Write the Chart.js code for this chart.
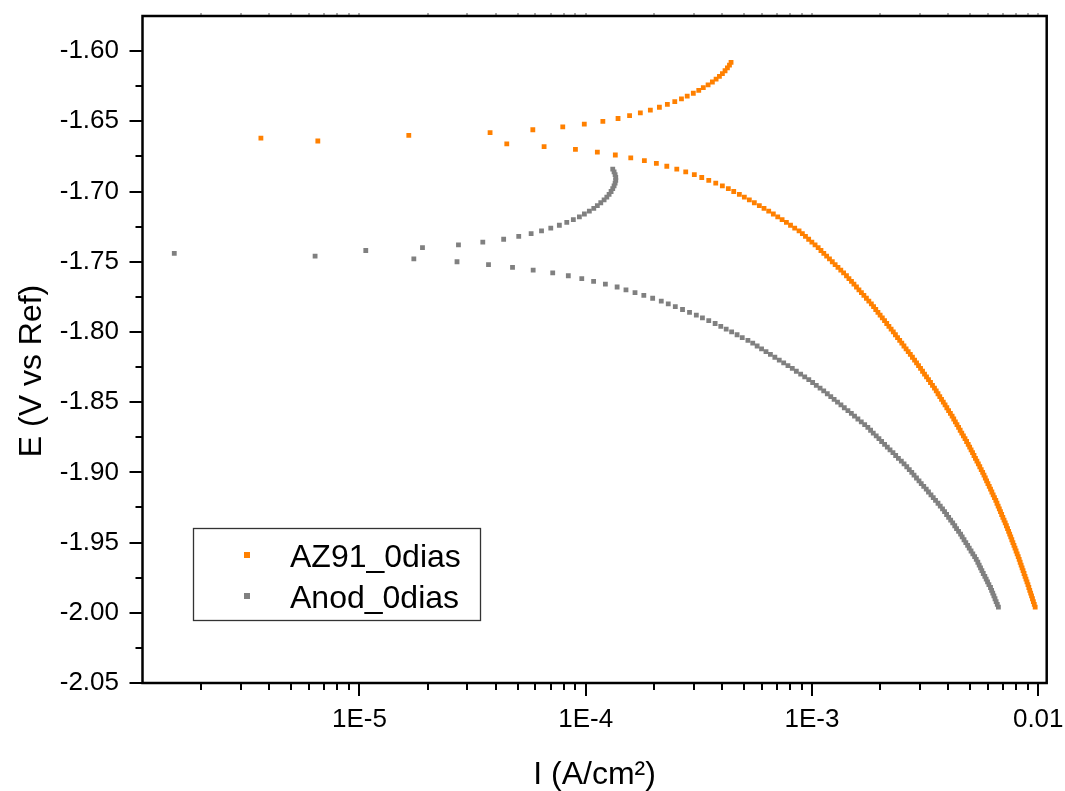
<!DOCTYPE html>
<html>
<head>
<meta charset="utf-8">
<title>Tafel AZ91 / Anod</title>
<script src="https://cdn.jsdelivr.net/npm/chart.js@4.4.1/dist/chart.umd.min.js"></script>
<style>
  html, body { margin: 0; padding: 0; background: #fff; }
</style>
</head>
<body>
<canvas id="tafel" width="1065" height="791"></canvas>
<script>
// Tafel curves, E (V vs Ref) against I (A/cm2)

const seriesNames = ['AZ91_0dias', 'Anod_0dias'];

// AZ91_0dias : potential (V) and current density (A/cm2), same order
const az91Potential = [
  -1.996,-1.994,-1.992,-1.990,-1.988,-1.986,-1.984,-1.982,-1.980,-1.978,
  -1.976,-1.974,-1.972,-1.970,-1.968,-1.966,-1.964,-1.962,-1.960,-1.958,
  -1.956,-1.954,-1.952,-1.950,-1.948,-1.946,-1.944,-1.942,-1.940,-1.938,
  -1.936,-1.934,-1.932,-1.930,-1.928,-1.926,-1.924,-1.922,-1.920,-1.918,
  -1.916,-1.914,-1.912,-1.910,-1.908,-1.906,-1.904,-1.902,-1.900,-1.898,
  -1.896,-1.894,-1.892,-1.890,-1.888,-1.886,-1.884,-1.882,-1.880,-1.878,
  -1.876,-1.874,-1.872,-1.870,-1.868,-1.866,-1.864,-1.862,-1.860,-1.858,
  -1.856,-1.854,-1.852,-1.850,-1.848,-1.846,-1.844,-1.842,-1.840,-1.838,
  -1.836,-1.834,-1.832,-1.830,-1.828,-1.826,-1.824,-1.822,-1.820,-1.818,
  -1.816,-1.814,-1.812,-1.810,-1.808,-1.806,-1.804,-1.802,-1.800,-1.798,
  -1.796,-1.794,-1.792,-1.790,-1.788,-1.786,-1.784,-1.782,-1.780,-1.778,
  -1.776,-1.774,-1.772,-1.770,-1.768,-1.766,-1.764,-1.762,-1.760,-1.758,
  -1.756,-1.754,-1.752,-1.750,-1.748,-1.746,-1.744,-1.742,-1.740,-1.738,
  -1.736,-1.734,-1.732,-1.730,-1.728,-1.726,-1.724,-1.722,-1.720,-1.718,
  -1.716,-1.714,-1.712,-1.710,-1.708,-1.706,-1.704,-1.702,-1.700,-1.698,
  -1.696,-1.694,-1.692,-1.690,-1.688,-1.686,-1.684,-1.682,-1.680,-1.678,
  -1.676,-1.674,-1.672,-1.670,-1.668,-1.666,-1.664,-1.662,-1.660,-1.658,
  -1.656,-1.654,-1.652,-1.650,-1.648,-1.646,-1.644,-1.642,-1.640,-1.638,
  -1.636,-1.634,-1.632,-1.630,-1.628,-1.626,-1.624,-1.622,-1.620,-1.618,
  -1.616,-1.614,-1.612,-1.610,-1.608
];
const az91Current = [
  9.694e-3,9.605e-3,9.517e-3,9.430e-3,9.344e-3,9.258e-3,9.173e-3,9.089e-3,9.006e-3,8.917e-3,
  8.829e-3,8.742e-3,8.656e-3,8.570e-3,8.486e-3,8.403e-3,8.320e-3,8.238e-3,8.157e-3,8.069e-3,
  7.982e-3,7.896e-3,7.811e-3,7.727e-3,7.643e-3,7.561e-3,7.479e-3,7.399e-3,7.319e-3,7.232e-3,
  7.146e-3,7.061e-3,6.976e-3,6.893e-3,6.811e-3,6.730e-3,6.650e-3,6.571e-3,6.493e-3,6.406e-3,
  6.321e-3,6.238e-3,6.155e-3,6.073e-3,5.993e-3,5.914e-3,5.835e-3,5.758e-3,5.681e-3,5.598e-3,
  5.517e-3,5.436e-3,5.357e-3,5.278e-3,5.201e-3,5.125e-3,5.050e-3,4.977e-3,4.904e-3,4.825e-3,
  4.747e-3,4.670e-3,4.594e-3,4.519e-3,4.446e-3,4.374e-3,4.303e-3,4.233e-3,4.164e-3,4.090e-3,
  4.017e-3,3.945e-3,3.875e-3,3.806e-3,3.738e-3,3.672e-3,3.606e-3,3.542e-3,3.479e-3,3.409e-3,
  3.341e-3,3.274e-3,3.208e-3,3.144e-3,3.081e-3,3.019e-3,2.958e-3,2.899e-3,2.841e-3,2.780e-3,
  2.721e-3,2.663e-3,2.606e-3,2.550e-3,2.495e-3,2.442e-3,2.389e-3,2.338e-3,2.288e-3,2.238e-3,
  2.188e-3,2.140e-3,2.093e-3,2.046e-3,2.001e-3,1.957e-3,1.914e-3,1.872e-3,1.830e-3,1.784e-3,
  1.740e-3,1.696e-3,1.654e-3,1.613e-3,1.573e-3,1.533e-3,1.495e-3,1.457e-3,1.421e-3,1.380e-3,
  1.341e-3,1.303e-3,1.266e-3,1.230e-3,1.195e-3,1.161e-3,1.128e-3,1.096e-3,1.065e-3,1.032e-3,
  9.99e-4,9.67e-4,9.36e-4,9.07e-4,8.77e-4,8.39e-4,8.04e-4,7.71e-4,7.38e-4,7.06e-4,
  6.75e-4,6.44e-4,6.14e-4,5.854e-4,5.564e-4,5.288e-4,5.026e-4,4.777e-4,4.511e-4,4.270e-4,
  4.018e-4,3.757e-4,3.499e-4,3.258e-4,3.021e-4,2.768e-4,2.527e-4,2.283e-4,2.053e-4,1.817e-4,
  1.582e-4,1.352e-4,1.126e-4,9.01e-5,6.55e-5,4.48e-5,6.55e-6,3.67e-6,1.653e-5,3.78e-5,
  5.84e-5,7.92e-5,9.86e-5,1.191e-4,1.390e-4,1.563e-4,1.744e-4,1.931e-4,2.117e-4,2.296e-4,
  2.476e-4,2.65e-4,2.81e-4,2.99e-4,3.16e-4,3.31e-4,3.475e-4,3.63e-4,3.77e-4,3.90e-4,
  4.02e-4,4.13e-4,4.23e-4,4.32e-4,4.39e-4
];

// Anod_0dias
const anodPotential = [
  -1.996,-1.994,-1.992,-1.990,-1.988,-1.986,-1.984,-1.982,-1.980,-1.978,
  -1.976,-1.974,-1.972,-1.970,-1.968,-1.966,-1.964,-1.962,-1.960,-1.958,
  -1.956,-1.954,-1.952,-1.950,-1.948,-1.946,-1.944,-1.942,-1.940,-1.938,
  -1.936,-1.934,-1.932,-1.930,-1.928,-1.926,-1.924,-1.922,-1.920,-1.918,
  -1.916,-1.914,-1.912,-1.910,-1.908,-1.906,-1.904,-1.902,-1.900,-1.898,
  -1.896,-1.894,-1.892,-1.890,-1.888,-1.886,-1.884,-1.882,-1.880,-1.878,
  -1.876,-1.874,-1.872,-1.870,-1.868,-1.866,-1.864,-1.862,-1.860,-1.858,
  -1.856,-1.854,-1.852,-1.850,-1.848,-1.846,-1.844,-1.842,-1.840,-1.838,
  -1.836,-1.834,-1.832,-1.830,-1.828,-1.826,-1.824,-1.822,-1.820,-1.818,
  -1.816,-1.814,-1.812,-1.810,-1.808,-1.806,-1.804,-1.802,-1.800,-1.798,
  -1.796,-1.794,-1.792,-1.790,-1.788,-1.786,-1.784,-1.782,-1.780,-1.778,
  -1.776,-1.774,-1.772,-1.770,-1.768,-1.766,-1.764,-1.762,-1.760,-1.758,
  -1.756,-1.754,-1.752,-1.750,-1.748,-1.746,-1.744,-1.742,-1.740,-1.738,
  -1.736,-1.734,-1.732,-1.730,-1.728,-1.726,-1.724,-1.722,-1.720,-1.718,
  -1.716,-1.714,-1.712,-1.710,-1.708,-1.706,-1.704,-1.702,-1.700,-1.698,
  -1.696,-1.694,-1.692,-1.690,-1.688,-1.686,-1.684
];
const anodCurrent = [
  6.668e-3,6.592e-3,6.516e-3,6.442e-3,6.368e-3,6.295e-3,6.223e-3,6.152e-3,6.053e-3,5.970e-3,
  5.888e-3,5.808e-3,5.715e-3,5.636e-3,5.559e-3,5.483e-3,5.408e-3,5.321e-3,5.236e-3,5.140e-3,
  5.047e-3,4.955e-3,4.875e-3,4.786e-3,4.699e-3,4.613e-3,4.539e-3,4.446e-3,4.355e-3,4.276e-3,
  4.188e-3,4.102e-3,4.018e-3,3.936e-3,3.855e-3,3.776e-3,3.690e-3,3.606e-3,3.516e-3,3.436e-3,
  3.357e-3,3.273e-3,3.199e-3,3.119e-3,3.041e-3,2.972e-3,2.897e-3,2.825e-3,2.761e-3,2.692e-3,
  2.624e-3,2.553e-3,2.483e-3,2.410e-3,2.344e-3,2.280e-3,2.213e-3,2.153e-3,2.094e-3,2.032e-3,
  1.977e-3,1.923e-3,1.866e-3,1.816e-3,1.766e-3,1.710e-3,1.652e-3,1.596e-3,1.542e-3,1.493e-3,
  1.442e-3,1.390e-3,1.343e-3,1.297e-3,1.253e-3,1.211e-3,1.169e-3,1.127e-3,1.086e-3,1.045e-3,
  1.007e-3,9.683e-4,9.290e-4,8.913e-4,8.531e-4,8.185e-4,7.834e-4,7.499e-4,7.170e-4,6.855e-4,
  6.552e-4,6.264e-4,5.988e-4,5.725e-4,5.473e-4,5.212e-4,4.920e-4,4.667e-4,4.416e-4,4.178e-4,
  3.954e-4,3.733e-4,3.499e-4,3.281e-4,3.083e-4,2.877e-4,2.679e-4,2.489e-4,2.317e-4,2.158e-4,
  1.977e-4,1.807e-4,1.652e-4,1.507e-4,1.377e-4,1.222e-4,1.084e-4,9.61e-5,8.38e-5,7.15e-5,
  5.86e-5,4.75e-5,3.72e-5,2.70e-5,1.740e-5,6.37e-6,1.52e-6,1.067e-5,1.90e-5,2.74e-5,
  3.51e-5,4.34e-5,5.06e-5,5.74e-5,6.38e-5,7.01e-5,7.65e-5,8.25e-5,8.82e-5,9.38e-5,
  9.87e-5,1.038e-4,1.086e-4,1.126e-4,1.166e-4,1.206e-4,1.240e-4,1.269e-4,1.295e-4,1.317e-4,
  1.335e-4,1.349e-4,1.358e-4,1.358e-4,1.349e-4,1.335e-4,1.317e-4
];

// axis ticks
const xMajorTicks = [1e-5, 1e-4, 1e-3, 1e-2];
const xTickLabels = ['1E-5', '1E-4', '1E-3', '0.01'];
const xMinorTicks = [
  2e-6, 3e-6, 4e-6, 5e-6, 6e-6, 7e-6, 8e-6, 9e-6,
  2e-5, 3e-5, 4e-5, 5e-5, 6e-5, 7e-5, 8e-5, 9e-5,
  2e-4, 3e-4, 4e-4, 5e-4, 6e-4, 7e-4, 8e-4, 9e-4,
  2e-3, 3e-3, 4e-3, 5e-3, 6e-3, 7e-3, 8e-3, 9e-3
];
const yMajorTicks = [-2.05, -2.00, -1.95, -1.90, -1.85, -1.80, -1.75, -1.70, -1.65, -1.60];
const yMinorTicks = [-2.025, -1.975, -1.925, -1.875, -1.825, -1.775, -1.725, -1.675, -1.625];

const xTitle = 'I (A/cm\u00B2)';
const yTitle = 'E (V vs Ref)';

const orange = '#ff8000';
const grey = '#808080';
const fontFam = '"Liberation Sans", Arial, Helvetica, sans-serif';

Chart.defaults.font.family = fontFam;
Chart.defaults.color = '#000';

function toPoints(cur, pot) {
  return cur.map((c, i) => ({ x: c, y: pot[i] }));
}

// frame box + tick marks (long for majors, short for minors)
const axisFrame = {
  id: 'axisFrame',
  afterDatasetsDraw(chart) {
    const { ctx, chartArea: a } = chart;
    const xs = chart.scales.x, ys = chart.scales.y;
    ctx.save();
    ctx.strokeStyle = '#000';
    ctx.lineWidth = 2;
    ctx.beginPath();
    xs.ticks.forEach(t => {
      const px = Math.round(xs.getPixelForValue(t.value));
      const len = xMajorTicks.includes(t.value) ? 13 : 7;
      ctx.moveTo(px, a.bottom);
      ctx.lineTo(px, a.bottom + len);
    });
    ys.ticks.forEach(t => {
      const py = Math.round(ys.getPixelForValue(t.value));
      const len = yMajorTicks.includes(t.value) ? 13 : 7;
      ctx.moveTo(a.left, py);
      ctx.lineTo(a.left - len, py);
    });
    ctx.stroke();
    // tiny ticks sticking out of the top edge
    ctx.lineWidth = 1;
    ctx.strokeStyle = '#555';
    ctx.beginPath();
    xs.ticks.forEach(t => {
      const px = Math.round(xs.getPixelForValue(t.value));
      ctx.moveTo(px, a.top);
      ctx.lineTo(px, a.top - 3);
    });
    ctx.stroke();
    ctx.strokeStyle = '#000';
    ctx.lineWidth = 2.5;
    ctx.strokeRect(a.left, a.top, a.right - a.left, a.bottom - a.top);
    ctx.restore();
  }
};

// axis titles
const axisTitles = {
  id: 'axisTitles',
  afterDraw(chart) {
    const ctx = chart.ctx;
    ctx.save();
    ctx.fillStyle = '#000';
    ctx.font = '32px ' + fontFam;
    ctx.textAlign = 'center';
    ctx.textBaseline = 'alphabetic';
    const a = chart.chartArea;
    ctx.fillText(xTitle, (a.left + a.right) / 2, 784);
    ctx.translate(41, 371);
    ctx.rotate(-Math.PI / 2);
    ctx.fillText(yTitle, 0, 0);
    ctx.restore();
  }
};

// boxed legend inside the plot
const legendBox = {
  id: 'legendBox',
  afterDraw(chart) {
    const ctx = chart.ctx;
    ctx.save();
    ctx.strokeStyle = '#333';
    ctx.lineWidth = 1.3;
    ctx.strokeRect(193.5, 528.5, 287, 92);
    ctx.font = '32px ' + fontFam;
    ctx.textBaseline = 'alphabetic';
    ctx.textAlign = 'left';
    chart.data.datasets.forEach((ds, i) => {
      const yc = 555 + i * 41;
      ctx.fillStyle = ds.backgroundColor;
      ctx.fillRect(244, yc - 3, 6, 6);
      ctx.fillStyle = '#000';
      ctx.fillText(ds.label, 290, yc + 11.5);
    });
    ctx.restore();
  }
};

const chart = new Chart(document.getElementById('tafel'), {
  type: 'scatter',
  data: {
    datasets: [
      {
        label: seriesNames[0],
        data: toPoints(az91Current, az91Potential),
        backgroundColor: orange,
        borderWidth: 0,
        pointStyle: 'rect',
        pointRadius: 3.4
      },
      {
        label: seriesNames[1],
        data: toPoints(anodCurrent, anodPotential),
        backgroundColor: grey,
        borderWidth: 0,
        pointStyle: 'rect',
        pointRadius: 3.4
      }
    ]
  },
  options: {
    responsive: false,
    animation: false,
    devicePixelRatio: 1,
    events: [],
    layout: { padding: { top: 16, right: 18.3, left: 0, bottom: 0 } },
    plugins: { legend: { display: false }, tooltip: { enabled: false } },
    scales: {
      x: {
        type: 'logarithmic',
        position: 'bottom',
        min: 1.1e-6,
        max: 0.0109,
        afterBuildTicks: s => {
          s.ticks = xMinorTicks.concat(xMajorTicks).sort((p, q) => p - q).map(v => ({ value: v }));
        },
        afterFit: s => { s.height = 108; s.paddingLeft = 0; s.paddingRight = 0; },
        grid: { drawOnChartArea: false, tickLength: 13, tickColor: 'rgba(0,0,0,0)' },
        border: { display: false },
        ticks: {
          autoSkip: false,
          maxRotation: 0,
          padding: 8,
          font: { size: 26 },
          callback: v => {
            const k = xMajorTicks.indexOf(v);
            return k < 0 ? '' : xTickLabels[k];
          }
        }
      },
      y: {
        type: 'linear',
        min: -2.05,
        max: -1.575,
        afterBuildTicks: s => {
          s.ticks = yMinorTicks.concat(yMajorTicks).sort((p, q) => p - q).map(v => ({ value: v }));
        },
        afterFit: s => { s.width = 142.5; s.paddingTop = 0; s.paddingBottom = 0; },
        grid: { drawOnChartArea: false, tickLength: 13, tickColor: 'rgba(0,0,0,0)' },
        border: { display: false },
        ticks: {
          autoSkip: false,
          padding: 10.5,
          font: { size: 26 },
          callback: v => yMajorTicks.includes(v) ? v.toFixed(2) : ''
        }
      }
    }
  },
  plugins: [axisFrame, axisTitles, legendBox]
});
</script>
</body>
</html>
